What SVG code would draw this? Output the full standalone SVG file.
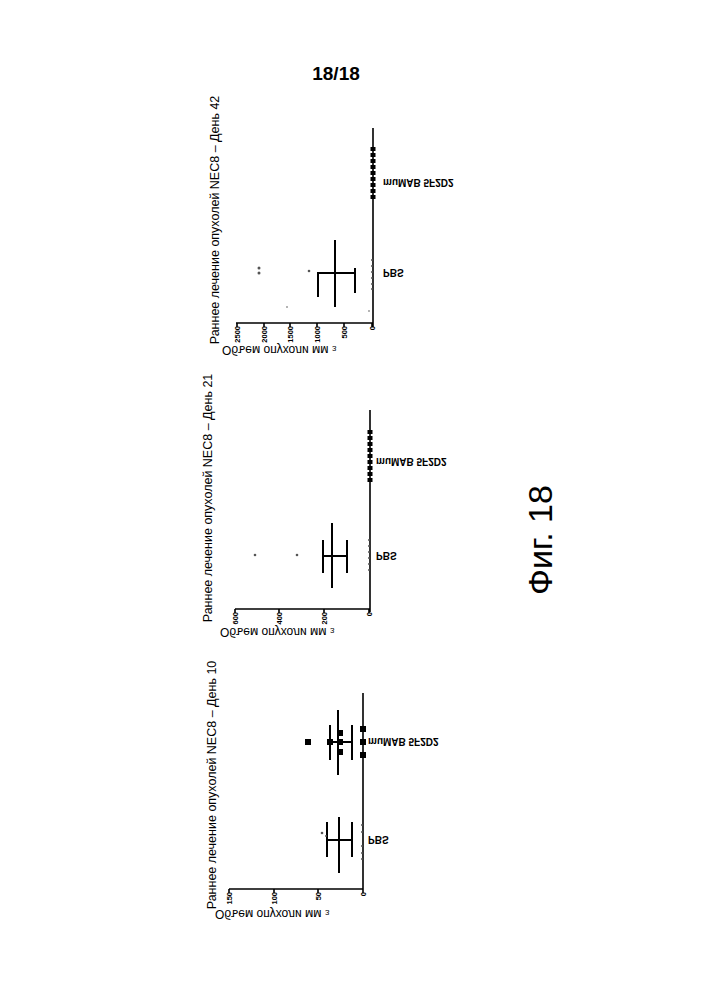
<svg xmlns="http://www.w3.org/2000/svg" width="718" height="1000" viewBox="0 0 718 1000">
<style>
.ax{stroke:#000;stroke-width:1.6;fill:none}
.eb{stroke:#000;stroke-width:2;fill:none}
.tt{font-family:"Liberation Sans",Arial,sans-serif;font-size:12.5px;fill:#000}
.tk{font-family:"Liberation Sans",Arial,sans-serif;font-size:7.5px;font-weight:bold;fill:#000}
.lb{font-family:"Liberation Sans",Arial,sans-serif;font-size:10px;font-weight:bold;fill:#000}
.yl{font-family:"Liberation Sans",Arial,sans-serif;font-size:12px;fill:#000}
.sq{fill:#000}
.dt{fill:#555}
</style>
<rect width="718" height="1000" fill="#fff"/>
<text x="336" y="80" text-anchor="middle" font-family="Liberation Sans, Arial, sans-serif" font-size="19" font-weight="bold">18/18</text>
<text transform="translate(552,540) rotate(-90)" text-anchor="middle" font-family="Liberation Sans, Arial, sans-serif" font-size="34">Фиг. 18</text>

<g id="chart-day42">
<text class="tt" transform="translate(219,220) rotate(-90)" text-anchor="middle">Раннее лечение опухолей NEC8 – День 42</text>
<path class="ax" d="M373,128V327M236,323H373M237,323v4M264,323v4M290,323v4M317,323v4M344,323v4M372,323v4"/>
<g class="tk">
<text transform="translate(240,326) rotate(-90)" text-anchor="end">2500</text>
<text transform="translate(267,326) rotate(-90)" text-anchor="end">2000</text>
<text transform="translate(293,326) rotate(-90)" text-anchor="end">1500</text>
<text transform="translate(320,326) rotate(-90)" text-anchor="end">1000</text>
<text transform="translate(347,326) rotate(-90)" text-anchor="end">500</text>
<text transform="translate(375,326) rotate(-90)" text-anchor="end">0</text>
</g>
<text class="yl" transform="translate(222,346) scale(1,-1)">Объем опухоли мм <tspan font-size="8">3</tspan></text>
<path class="eb" d="M335,240V307M318,272V297M355,268V293M318,273H355"/>
<g class="dt"><circle cx="259" cy="268" r="1.5"/><circle cx="259" cy="273" r="1.5"/><circle cx="309" cy="271" r="1.3"/><circle cx="287" cy="307" r="0.8"/><circle cx="369" cy="311" r="0.8"/>
<circle cx="372" cy="260" r="1"/><circle cx="372" cy="266" r="1"/><circle cx="372" cy="272" r="1"/><circle cx="372" cy="278" r="1"/><circle cx="372" cy="284" r="1"/><circle cx="372" cy="289" r="1"/></g>
<g class="sq"><rect x="370.5" y="147" width="5" height="4"/><rect x="370.5" y="153" width="5" height="4"/><rect x="370.5" y="159" width="5" height="4"/><rect x="370.5" y="165" width="5" height="4"/><rect x="370.5" y="171" width="5" height="4"/><rect x="370.5" y="177" width="5" height="4"/><rect x="370.5" y="183" width="5" height="4"/><rect x="370.5" y="189" width="5" height="4"/><rect x="370.5" y="195" width="5" height="4"/></g>
<text class="lb" transform="translate(383,269) scale(1,-1)">PBS</text>
<text class="lb" transform="translate(383,179) scale(1,-1)">muMAB 5F2D2</text>
</g>

<g id="chart-day21">
<text class="tt" transform="translate(212,498) rotate(-90)" text-anchor="middle">Раннее лечение опухолей NEC8 – День 21</text>
<path class="ax" d="M370,410V612M235,609H370M235,609v4M279,609v4M324,609v4M369,609v4"/>
<g class="tk">
<text transform="translate(238,612) rotate(-90)" text-anchor="end">600</text>
<text transform="translate(282,612) rotate(-90)" text-anchor="end">400</text>
<text transform="translate(327,612) rotate(-90)" text-anchor="end">200</text>
<text transform="translate(372,612) rotate(-90)" text-anchor="end">0</text>
</g>
<text class="yl" transform="translate(220,628) scale(1,-1)">Объем опухоли мм <tspan font-size="8">3</tspan></text>
<path class="eb" d="M332,523V588M323,540V573M347,540V573M323,556H347"/>
<g class="dt"><circle cx="255" cy="555" r="1.3"/><circle cx="297" cy="555" r="1.3"/>
<circle cx="369" cy="540" r="1"/><circle cx="369" cy="546" r="1"/><circle cx="369" cy="552" r="1"/><circle cx="369" cy="558" r="1"/><circle cx="369" cy="564" r="1"/><circle cx="369" cy="570" r="1"/></g>
<g class="sq"><rect x="367.5" y="430" width="5" height="4"/><rect x="367.5" y="436" width="5" height="4"/><rect x="367.5" y="442" width="5" height="4"/><rect x="367.5" y="448" width="5" height="4"/><rect x="367.5" y="454" width="5" height="4"/><rect x="367.5" y="460" width="5" height="4"/><rect x="367.5" y="466" width="5" height="4"/><rect x="367.5" y="472" width="5" height="4"/><rect x="367.5" y="478" width="5" height="4"/></g>
<text class="lb" transform="translate(376,552) scale(1,-1)">PBS</text>
<text class="lb" transform="translate(376,458) scale(1,-1)">muMAB 5F2D2</text>
</g>

<g id="chart-day10">
<text class="tt" transform="translate(216,785) rotate(-90)" text-anchor="middle">Раннее лечение опухолей NEC8 – День 10</text>
<path class="ax" d="M363,693V892M229,889H363M229,889v4M274,889v4M318,889v4M363,889v4"/>
<g class="tk">
<text transform="translate(232,892) rotate(-90)" text-anchor="end">150</text>
<text transform="translate(277,892) rotate(-90)" text-anchor="end">100</text>
<text transform="translate(321,892) rotate(-90)" text-anchor="end">50</text>
<text transform="translate(366,892) rotate(-90)" text-anchor="end">0</text>
</g>
<text class="yl" transform="translate(215,910) scale(1,-1)">Объем опухоли мм <tspan font-size="8">3</tspan></text>
<path class="eb" d="M339,817V873M327,822V857M352,822V857M327,840H352"/>
<path class="eb" d="M338,710V775M330,725V760M352,725V760M330,742H352"/>
<g class="dt"><circle cx="322" cy="833" r="1.3"/><circle cx="326" cy="836" r="1"/>
<circle cx="362" cy="825" r="1"/><circle cx="362" cy="832" r="1"/><circle cx="362" cy="846" r="1"/><circle cx="362" cy="853" r="1"/><circle cx="362" cy="859" r="1"/></g>
<g class="sq"><rect x="305" y="739" width="6" height="6"/><rect x="327" y="739" width="6" height="6"/><rect x="337" y="730" width="6" height="6"/><rect x="337" y="749" width="6" height="6"/><rect x="337" y="739" width="6" height="6"/><rect x="360" y="726" width="6" height="6"/><rect x="360" y="739" width="6" height="6"/><rect x="360" y="752" width="6" height="6"/></g>
<text class="lb" transform="translate(368,836) scale(1,-1)">PBS</text>
<text class="lb" transform="translate(368,738) scale(1,-1)">muMAB 5F2D2</text>
</g>
</svg>
